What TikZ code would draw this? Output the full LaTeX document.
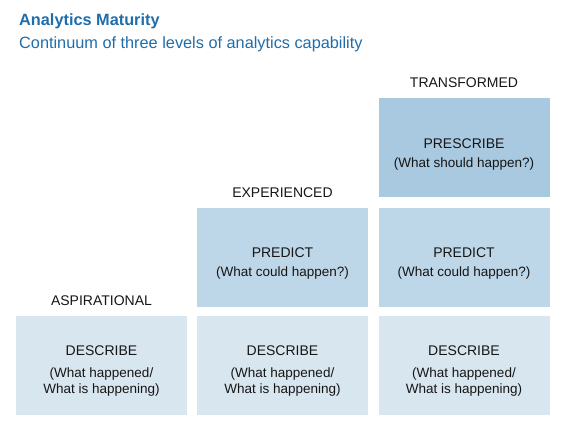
\documentclass[tikz,border=0pt]{standalone}
\usepackage{fontspec}
\setmainfont{Liberation Sans}
\usetikzlibrary{positioning}
\definecolor{titleblue}{HTML}{1F6DAA}
\definecolor{lowblue}{HTML}{D8E6F0}
\definecolor{midblue}{HTML}{BED7E8}
\definecolor{topblue}{HTML}{A8C9E0}
\definecolor{inkgray}{HTML}{161616}
\newcommand{\subline}[1]{{\fontsize{13.5}{14}\selectfont #1}}
\begin{document}
\begin{tikzpicture}[x=1pt, y=-1pt,
      every node/.style={font=\fontsize{14}{16}\selectfont, text=inkgray},
      cell/.style={rectangle, minimum width=171pt, minimum height=99pt, inner sep=0pt, align=center},
      low/.style={cell, fill=lowblue},
      mid/.style={cell, fill=midblue},
      top/.style={cell, fill=topblue},
      heading/.style={anchor=west, inner sep=0pt, text=titleblue, font=\fontsize{16.3}{18}\selectfont},
      level/.style={inner sep=0pt, above=10pt}
  ]
    \useasboundingbox (0,0) rectangle (566,430);
    \node[heading, font=\bfseries\fontsize{16.3}{18}\selectfont] (title) at (19,21) {Analytics Maturity};
    \node[heading] (subtitle) at (19,44) {Continuum of three levels of analytics capability};

    \foreach \n/\x in {desc1/101.5, desc2/282.5, desc3/464} {
      \node[low] (\n) at (\x,366) {\rule{0pt}{20pt}DESCRIBE\\[6pt]\subline{(What happened/}\\\subline{What is happening)}};
    }
    \foreach \n/\x in {pred2/282.5, pred3/464} {
      \node[mid] (\n) at (\x,257.5) {\rule{0pt}{21pt}PREDICT\\[3pt]\subline{(What could happen?)}};
    }
    \node[top] (presc3) at (464,147.5) {\rule{0pt}{23pt}PRESCRIBE\\[3pt]\subline{(What should happen?)}};

    \node[level] (aspirational) at (desc1.north) {ASPIRATIONAL};
    \node[level] (experienced) at (pred2.north) {EXPERIENCED};
    \node[level] (transformed) at (presc3.north) {TRANSFORMED};
  \end{tikzpicture}
\end{document}
